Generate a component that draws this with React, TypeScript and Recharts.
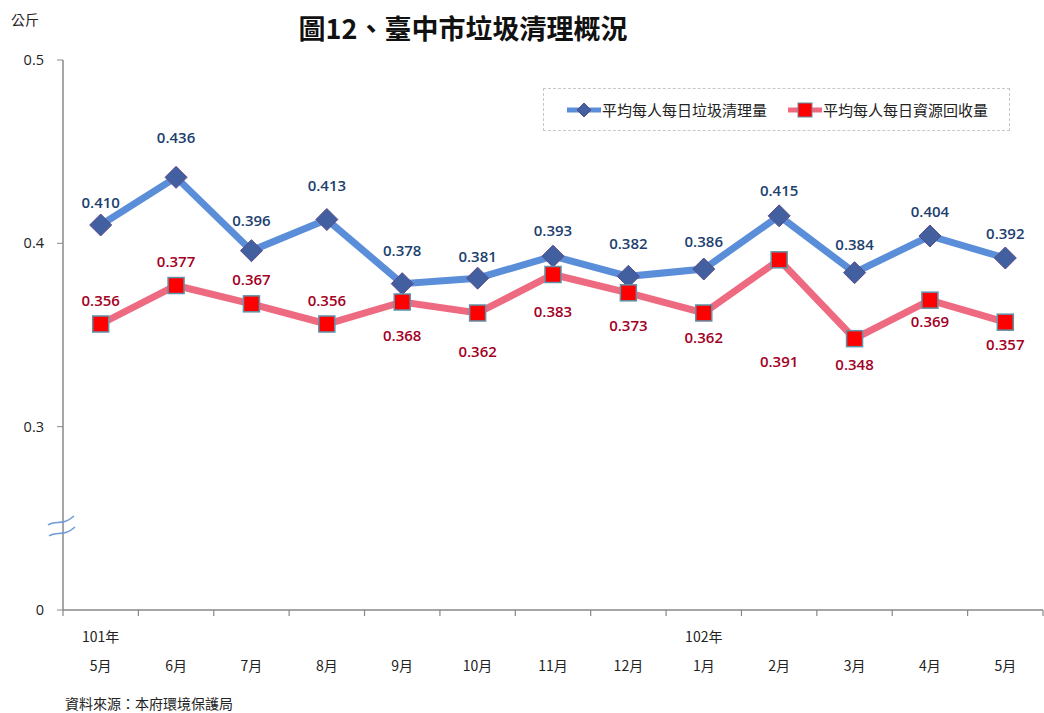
import React from 'react';
import { LineChart, Line, XAxis, YAxis, Legend, LabelList } from 'recharts';

// 月份與年度標籤
const months = ['5月', '6月', '7月', '8月', '9月', '10月', '11月', '12月', '1月', '2月', '3月', '4月', '5月'];
const years = ['101年', '', '', '', '', '', '', '', '102年', '', '', '', ''];

// 平均每人每日垃圾清理量 (公斤)
const garbage = [0.41, 0.436, 0.396, 0.413, 0.378, 0.381, 0.393, 0.382, 0.386, 0.415, 0.384, 0.404, 0.392];
// 平均每人每日資源回收量 (公斤)
const recycle = [0.356, 0.377, 0.367, 0.356, 0.368, 0.362, 0.383, 0.373, 0.362, 0.391, 0.348, 0.369, 0.357];

const yTicks = [0.2, 0.3, 0.4, 0.5];

// label offsets relative to each point (px)
const garbageLabelDy = [-23, -40, -31, -35, -34, -22, -26, -33, -28, -26, -29, -25, -25];
const recycleLabelDy = [-24, -25, -25, -24, 33, 38, 36, 32, 24, 101, 25, 21, 22];

const data = months.map((m, i) => ({
  month: m,
  year: years[i],
  garbage: garbage[i],
  recycle: recycle[i],
}));

const W = 1044;
const H = 713;
const PLOT_LEFT = 63;
const PLOT_RIGHT = 1043;
const BAND = (PLOT_RIGHT - PLOT_LEFT) / months.length;

const BLUE = '#5A8ED8';
const RED = '#EE6A80';
const CJK = '"Noto Sans CJK TC", "Noto Sans", sans-serif';
const NUM = '"Open Sans", sans-serif';

const Diamond = (props: any) => {
  const { cx, cy } = props;
  if (cx == null || cy == null) return null;
  const r = 11;
  return (
    <polygon
      points={`${cx},${cy - r} ${cx + r},${cy} ${cx},${cy + r} ${cx - r},${cy}`}
      fill="#42609F"
      stroke="#5B4A8A"
      strokeWidth={1}
    />
  );
};

const Square = (props: any) => {
  const { cx, cy } = props;
  if (cx == null || cy == null) return null;
  const s = 8;
  return <rect x={cx - s} y={cy - s} width={s * 2} height={s * 2} fill="#FF0000" stroke="#5F93A8" strokeWidth={1.5} />;
};

const makeLabel = (dys: number[], color: string) => (props: any) => {
  const { x, y, value, index } = props;
  return (
    <text
      x={x}
      y={y + dys[index]}
      textAnchor="middle"
      dominantBaseline="central"
      fill={color}
      fontSize={15}
      fontWeight={600}
      fontFamily={NUM}
    >
      {Number(value).toFixed(3)}
    </text>
  );
};

const MonthTick = (props: any) => {
  const { x, y, payload, index } = props;
  const i = index ?? payload?.index ?? 0;
  const yr = years[i];
  return (
    <g>
      <line x1={x - BAND / 2} x2={x - BAND / 2} y1={y} y2={y + 6} stroke="#888" strokeWidth={1.2} />
      {i === months.length - 1 && (
        <line x1={x + BAND / 2} x2={x + BAND / 2} y1={y} y2={y + 6} stroke="#888" strokeWidth={1.2} />
      )}
      {yr && (
        <text x={x} y={y + 26} textAnchor="middle" dominantBaseline="central" fontSize={14} fontFamily={CJK} fill="#222">
          {yr}
        </text>
      )}
      <text x={x} y={y + 55} textAnchor="middle" dominantBaseline="central" fontSize={14} fontFamily={CJK} fill="#222">
        {payload.value}
      </text>
    </g>
  );
};

const LegendBox = () => (
  <div
    style={{
      width: 467,
      height: 43,
      border: '1px dashed #c8c8c8',
      boxSizing: 'border-box',
      display: 'flex',
      alignItems: 'center',
      fontFamily: CJK,
      fontSize: 15,
      color: '#222',
      background: '#fff',
    }}
  >
    <svg width={36} height={20} style={{ marginLeft: 22 }}>
      <line x1={1} x2={35} y1={10} y2={10} stroke={BLUE} strokeWidth={5} />
      <polygon points="18,3 25,10 18,17 11,10" fill="#42609F" stroke="#5B4A8A" />
    </svg>
    <span>平均每人每日垃圾清理量</span>
    <svg width={36} height={20} style={{ marginLeft: 20 }}>
      <line x1={1} x2={35} y1={10} y2={10} stroke={RED} strokeWidth={5} />
      <rect x={11} y={3} width={14} height={14} fill="#FF0000" stroke="#5F93A8" />
    </svg>
    <span>平均每人每日資源回收量</span>
  </div>
);

export default function App() {
  return (
    <div style={{ position: 'absolute', left: 0, top: 0, width: W, height: H, background: '#fff' }}>
      <div
        style={{
          position: 'absolute',
          left: 0,
          width: 926,
          top: 9,
          textAlign: 'center',
          fontFamily: CJK,
          fontWeight: 'bold',
          fontSize: 27,
          lineHeight: '38px',
          color: '#111',
        }}
      >
        圖12、臺中市垃圾清理概況
      </div>
      <div style={{ position: 'absolute', left: 11, top: 9, fontFamily: CJK, fontSize: 14, color: '#222' }}>公斤</div>
      <div style={{ position: 'absolute', left: 65, top: 693, fontFamily: CJK, fontSize: 14, color: '#222' }}>
        資料來源：本府環境保護局
      </div>
      <LineChart width={W} height={H} data={data} margin={{ top: 60, right: W - PLOT_RIGHT, bottom: 0, left: 0 }}>
        <XAxis
          dataKey="month"
          interval={0}
          height={103}
          padding={{ left: BAND / 2, right: BAND / 2 }}
          axisLine={{ stroke: '#888', strokeWidth: 1.5 }}
          tickLine={false}
          tickSize={0}
          tickMargin={0}
          tick={<MonthTick />}
        />
        <YAxis
          type="number"
          domain={[0.2, 0.5]}
          ticks={yTicks}
          allowDataOverflow
          width={PLOT_LEFT}
          axisLine={{ stroke: '#888', strokeWidth: 1.5 }}
          tickLine={{ stroke: '#888' }}
          tickSize={6}
          tickMargin={13}
          tick={{ fontSize: 14.5, fill: '#222', fontFamily: NUM }}
          tickFormatter={(v: number) => (v === 0.2 ? '0' : String(v))}
        />
        <Legend
          layout="horizontal"
          verticalAlign="middle"
          align="center"
          content={<LegendBox />}
          wrapperStyle={{ position: 'absolute', left: 543, top: 88, width: 467, height: 43 }}
        />
        <Line
          dataKey="garbage"
          name="平均每人每日垃圾清理量"
          stroke={BLUE}
          strokeWidth={7}
          dot={<Diamond />}
          activeDot={false}
          isAnimationActive={false}
        >
          <LabelList dataKey="garbage" content={makeLabel(garbageLabelDy, '#213F6E')} />
        </Line>
        <Line
          dataKey="recycle"
          name="平均每人每日資源回收量"
          stroke={RED}
          strokeWidth={7}
          dot={<Square />}
          activeDot={false}
          isAnimationActive={false}
        >
          <LabelList dataKey="recycle" content={makeLabel(recycleLabelDy, '#A3001F')} />
        </Line>
      </LineChart>
      <svg style={{ position: 'absolute', left: 40, top: 505, pointerEvents: 'none' }} width={45} height={40}>
        <path d="M8,20 C16,14 22,22 34,11" fill="none" stroke="#6F9BD8" strokeWidth={1.5} />
        <path d="M9,31 C17,25 23,33 35,22" fill="none" stroke="#6F9BD8" strokeWidth={1.5} />
      </svg>
    </div>
  );
}
